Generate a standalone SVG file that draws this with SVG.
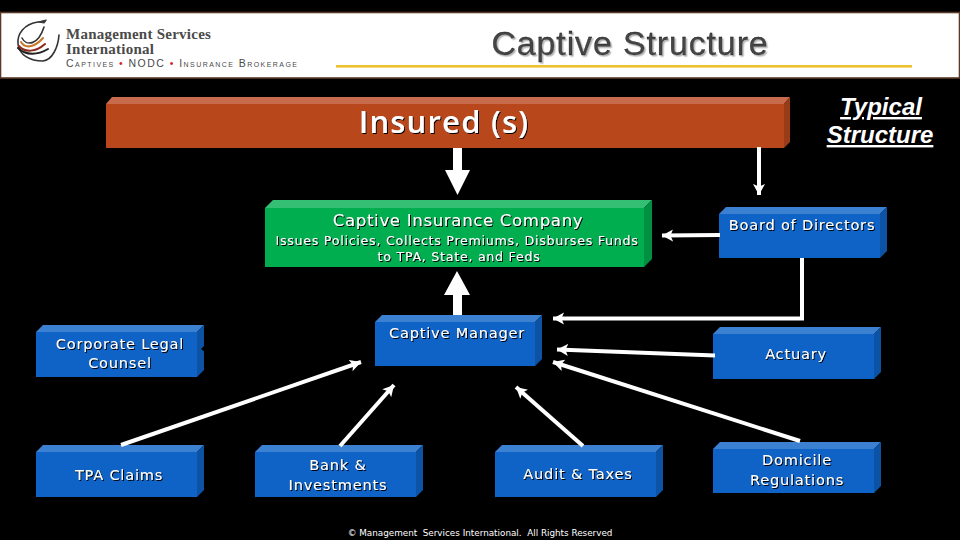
<svg xmlns="http://www.w3.org/2000/svg" width="960" height="540" viewBox="0 0 960 540">
<style>
.lbl{font-family:"DejaVu Sans","Liberation Sans",sans-serif;fill:#fff;text-anchor:middle;filter:url(#sh)}
.f15{font-size:14.5px;letter-spacing:.83px}
.sub{font-size:12.6px;letter-spacing:.75px}
.blue .f{fill:#0F62C6}.blue .t{fill:#3C80D2}.blue .s{fill:#0C52A5}
.green .f{fill:#00AD4F}.green .t{fill:#35BF74}.green .s{fill:#009042}
.orange .f{fill:#B9471C}.orange .t{fill:#C76B4C}.orange .s{fill:#9A3B17}
.ln{fill:none;stroke:#fff;stroke-width:4}
.thick{fill:#fff}
</style>
<defs>
<filter id="sh" x="-10%" y="-30%" width="120%" height="160%"><feDropShadow dx="1" dy="1" stdDeviation="0.2" flood-color="#000" flood-opacity="1"/></filter>
<filter id="ts" x="-10%" y="-30%" width="120%" height="160%"><feDropShadow dx="1.500" dy="1.500" stdDeviation="0.5" flood-color="#b5b5b5" flood-opacity="1"/></filter>
<marker id="ah" markerUnits="userSpaceOnUse" markerWidth="12" markerHeight="14" refX="11" refY="7" orient="auto"><path d="M0 1L11 7L0 13L2.5 7Z" fill="#fff"/></marker>
</defs>
<rect width="960" height="540" fill="#000"/>
<g id="header">
<rect x="0.5" y="12.5" width="959" height="65.5" fill="#fff" stroke="#5B3A29" stroke-width="1.6"/>
<g id="logo" fill="none" stroke-linecap="round">
<path d="M38 22C24 24 17 34 18 44C19 55 30 61 43 61C52 60 58 48 59 35" stroke="#333" stroke-width="1.6"/>
<path d="M46 20L38 22L44 23Z" fill="#333" stroke="#333" stroke-width="1"/>
<path d="M22 38C26 46 38 46 44 27" stroke="#333" stroke-width="1.6"/>
<path d="M21 42C26 50 36 46 43 38" stroke="#C9772B" stroke-width="2"/>
<path d="M19 46C25 53 36 52 45 44" stroke="#8B2A1A" stroke-width="2"/>
<path d="M18 48C26 56 38 55 48 49" stroke="#222" stroke-width="2"/>
</g>
<text x="66" y="39" font-family="Liberation Serif,serif" font-weight="700" font-size="15" letter-spacing=".25" fill="#4a4a4a">Management Services</text>
<text x="66" y="54" font-family="Liberation Serif,serif" font-weight="700" font-size="15" letter-spacing=".25" fill="#4a4a4a">International</text>
<text x="66" y="67" font-family="Liberation Sans,sans-serif" font-size="10.500" style="font-variant:small-caps" fill="#4a4a4a" textLength="231" lengthAdjust="spacing">Captives <tspan fill="#d2232a">•</tspan> NODC <tspan fill="#d2232a">•</tspan> Insurance Brokerage</text>
<rect x="336" y="65" width="576" height="2.6" fill="#EFC12F"/>
<text x="630" y="55" text-anchor="middle" font-family="Liberation Sans,sans-serif" font-size="34" letter-spacing=".85" fill="#444" stroke="#111" stroke-width=".3" filter="url(#ts)">Captive Structure</text>
</g>
<g id="insured" class="orange">
<path class="t" d="M106 104L112 97H790L784 104Z"/><path class="s" d="M784 104L790 97V142L784 148Z"/><rect class="f" x="106" y="104" width="678" height="44"/>
<text class="lbl" x="444" y="133" font-size="31" style="font-family:'Open Sans','DejaVu Sans',sans-serif;font-weight:600;letter-spacing:1.200px">Insured (s)</text>
</g>
<g id="captive-company" class="green">
<path class="t" d="M265 208L273 200H652L644 208Z"/><path class="s" d="M644 208L652 200V259L644 267Z"/><rect class="f" x="265" y="208" width="379" height="59"/>
<text class="lbl" x="458" y="226" font-size="16.500" style="letter-spacing:.7px">Captive Insurance Company</text>
<text class="lbl sub" x="457" y="245">Issues Policies, Collects Premiums, Disburses Funds</text>
<text class="lbl sub" x="459" y="261">to TPA, State, and Feds</text>
</g>
<g id="board" class="blue">
<path class="t" d="M719 214L726 207H887L880 214Z"/><path class="s" d="M880 214L887 207V251L880 258Z"/><rect class="f" x="719" y="214" width="161" height="44"/>
<text class="lbl f15" x="802" y="230">Board of Directors</text>
</g>
<g id="manager" class="blue">
<path class="t" d="M375 322L382 315H542L535 322Z"/><path class="s" d="M535 322L542 315V359L535 366Z"/><rect class="f" x="375" y="322" width="160" height="44"/>
<text class="lbl f15" x="457" y="338">Captive Manager</text>
</g>
<g id="legal" class="blue">
<path class="t" d="M36 332L43 325H204L197 332Z"/><path class="s" d="M197 332L204 325V370L197 377Z"/><rect class="f" x="36" y="332" width="161" height="45"/>
<text class="lbl f15" x="120" y="349">Corporate Legal</text>
<text class="lbl f15" x="120" y="368">Counsel</text>
</g>
<g id="actuary" class="blue">
<path class="t" d="M713 334L720 327H881L874 334Z"/><path class="s" d="M874 334L881 327V372L874 379Z"/><rect class="f" x="713" y="334" width="161" height="45"/>
<text class="lbl f15" x="796" y="359">Actuary</text>
</g>
<g id="tpa" class="blue">
<path class="t" d="M36 452L43 445H204L197 452Z"/><path class="s" d="M197 452L204 445V490L197 497Z"/><rect class="f" x="36" y="452" width="161" height="45"/>
<text class="lbl f15" x="119" y="480">TPA Claims</text>
</g>
<g id="bank" class="blue">
<path class="t" d="M255 452L262 445H423L416 452Z"/><path class="s" d="M416 452L423 445V490L416 497Z"/><rect class="f" x="255" y="452" width="161" height="45"/>
<text class="lbl f15" x="338" y="470">Bank &amp;</text>
<text class="lbl f15" x="338" y="490">Investments</text>
</g>
<g id="audit" class="blue">
<path class="t" d="M495 452L502 445H663L656 452Z"/><path class="s" d="M656 452L663 445V490L656 497Z"/><rect class="f" x="495" y="452" width="161" height="45"/>
<text class="lbl f15" x="578" y="479">Audit &amp; Taxes</text>
</g>
<g id="domicile" class="blue">
<path class="t" d="M713 449L720 442H881L874 449Z"/><path class="s" d="M874 449L881 442V486L874 493Z"/><rect class="f" x="713" y="449" width="161" height="44"/>
<text class="lbl f15" x="797" y="465">Domicile</text>
<text class="lbl f15" x="797" y="485">Regulations</text>
</g>
<g id="connectors">
<path class="thick" d="M453 148H462V170H470L457.500 195L445 170H453Z"/>
<path class="thick" d="M453 315V295H444L457 271L470 295H462V315Z"/>
<path class="ln" d="M759 147V195" marker-end="url(#ah)"/>
<path class="ln" d="M720 235L662 235.500" marker-end="url(#ah)"/>
<path class="ln" d="M802 258V318.500H553" marker-end="url(#ah)"/>
<path class="ln" d="M715 355.500L557 349.500" marker-end="url(#ah)"/>
<path class="ln" d="M800 441L553 362" marker-end="url(#ah)"/>
<path class="ln" d="M121 445L361 362" marker-end="url(#ah)"/>
<path class="ln" d="M340 446L394 385" marker-end="url(#ah)"/>
<path class="ln" d="M583 446L516 387" marker-end="url(#ah)"/>
<path d="M201 349L205 345V352Z" fill="#000"/>
</g>
<g id="typical" font-family="Liberation Sans,sans-serif" font-size="24" font-style="italic" font-weight="700" fill="#fff" text-anchor="middle" text-decoration="underline">
<text x="881" y="115">Typical</text>
<text x="880" y="143">Structure</text>
</g>
<text id="footer" x="480" y="536" text-anchor="middle" font-family="DejaVu Sans,sans-serif" font-size="8.800" fill="#fff" xml:space="preserve">© Management  Services International.  All Rights Reserved</text>
</svg>
